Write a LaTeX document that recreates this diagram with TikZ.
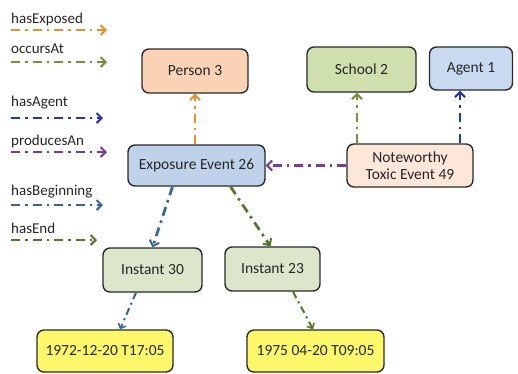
\documentclass[tikz,border=0pt]{standalone}
\usepackage{fontspec}
\setmainfont{Carlito}
\usetikzlibrary{arrows.meta}
\definecolor{cOrange}{HTML}{E8902E}
\definecolor{cOlive}{HTML}{77923D}
\definecolor{cBlue}{HTML}{2238A6}
\definecolor{cPurple}{HTML}{7B3A96}
\definecolor{cSteel}{HTML}{3A6494}
\definecolor{cGreen}{HTML}{4E7A26}
\definecolor{fPeach}{HTML}{FAD3B6}
\definecolor{fBlue}{HTML}{BED2EA}
\definecolor{fOlive}{HTML}{CFE0AE}
\definecolor{fAgent}{HTML}{C9DAF0}
\definecolor{fCream}{HTML}{FDE7D8}
\definecolor{fInst}{HTML}{DCE6CB}
\definecolor{fYellow}{HTML}{FCF86A}
\definecolor{cBorder}{HTML}{2A2A2A}
\tikzset{
  box/.style={draw=cBorder, line width=1.4pt, rounded corners=7pt, inner sep=0pt, align=center,
    font=\fontsize{15.5}{17}\selectfont, text=black!85},
  rel/.style={line width=2.7pt, dash pattern=on 9pt off 5pt on 2.5pt off 5pt,
    -{Straight Barb[length=5pt,width=10pt,line width=2pt]}},
  thinrel/.style={line width=2pt, dash pattern=on 7pt off 4pt on 2pt off 4pt,
    -{Straight Barb[length=4pt,width=8pt,line width=1.6pt]}},
  legtext/.style={anchor=west, inner sep=0pt, font=\fontsize{15}{17}\selectfont, text=black!85},
}
\begin{document}
\begin{tikzpicture}[x=1pt,y=-1pt]
\useasboundingbox (0,0) rectangle (518,373);
% nodes
\node[box, fill=fPeach, minimum width=106pt, minimum height=44pt] (per) at (195,71) {Person 3};
\node[box, fill=fBlue, minimum width=137pt, minimum height=41pt] (exp) at (196.5,165.5) {Exposure Event 26};
\node[box, fill=fOlive, minimum width=109pt, minimum height=45pt] (sch) at (361.5,69.5) {School 2};
\node[box, fill=fAgent, minimum width=83pt, minimum height=43pt] (agt) at (471,68.5) {Agent 1};
\node[box, fill=fCream, minimum width=126pt, minimum height=43pt] (ntx) at (410,165.5) {Noteworthy\\Toxic Event 49};
\node[box, fill=fInst, minimum width=99pt, minimum height=44pt] (i30) at (152.5,270) {Instant 30};
\node[box, fill=fInst, minimum width=95pt, minimum height=44pt] (i23) at (272.5,269) {Instant 23};
\node[box, fill=fYellow, minimum width=136pt, minimum height=42pt] (d72) at (105,351) {1972-12-20 T17:05};
\node[box, fill=fYellow, minimum width=137pt, minimum height=42pt] (d75) at (315.5,351) {1975 04-20 T09:05};
% connectors
\draw[rel, cOrange] (exp.north -| per.south) -- (per.south);
\draw[rel, cOlive] ([xshift=-53pt]ntx.north) -- ([xshift=-53pt]ntx.north |- sch.south);
\draw[rel, cBlue] ([xshift=50pt]ntx.north) -- ([xshift=50pt]ntx.north |- agt.south);
\draw[rel, cPurple] (ntx.west) -- (exp.east);
\draw[rel, cSteel] ([xshift=-24pt]exp.south) -- (i30.north);
\draw[rel, cGreen] ([xshift=34pt]exp.south) -- ([xshift=-2pt]i23.north);
\draw[thinrel, cSteel] ([xshift=-16.5pt]i30.south) -- ([xshift=15pt]d72.north);
\draw[thinrel, cGreen] ([xshift=20.5pt]i23.south) -- ([xshift=-2.5pt]d75.north);
% legend
\node[legtext] (t1) at (11,19) {hasExposed};
\coordinate (a1) at (11,30); \coordinate (b1) at (107,30);
\draw[rel, cOrange] (a1) -- (b1);
\node[legtext] (t2) at (11,49) {occursAt};
\coordinate (a2) at (11,62); \coordinate (b2) at (107,62);
\draw[rel, cOlive] (a2) -- (b2);
\node[legtext] (t3) at (11,103) {hasAgent};
\coordinate (a3) at (11,118); \coordinate (b3) at (103,118);
\draw[rel, cBlue] (a3) -- (b3);
\node[legtext] (t4) at (11,141) {producesAn};
\coordinate (a4) at (11,152); \coordinate (b4) at (107,152);
\draw[rel, cPurple] (a4) -- (b4);
\node[legtext] (t5) at (11,192) {hasBeginning};
\coordinate (a5) at (11,205); \coordinate (b5) at (103,205);
\draw[rel, cSteel] (a5) -- (b5);
\node[legtext] (t6) at (11,228) {hasEnd};
\coordinate (a6) at (11,240); \coordinate (b6) at (97,240);
\draw[rel, cGreen] (a6) -- (b6);
\end{tikzpicture}
\end{document}
